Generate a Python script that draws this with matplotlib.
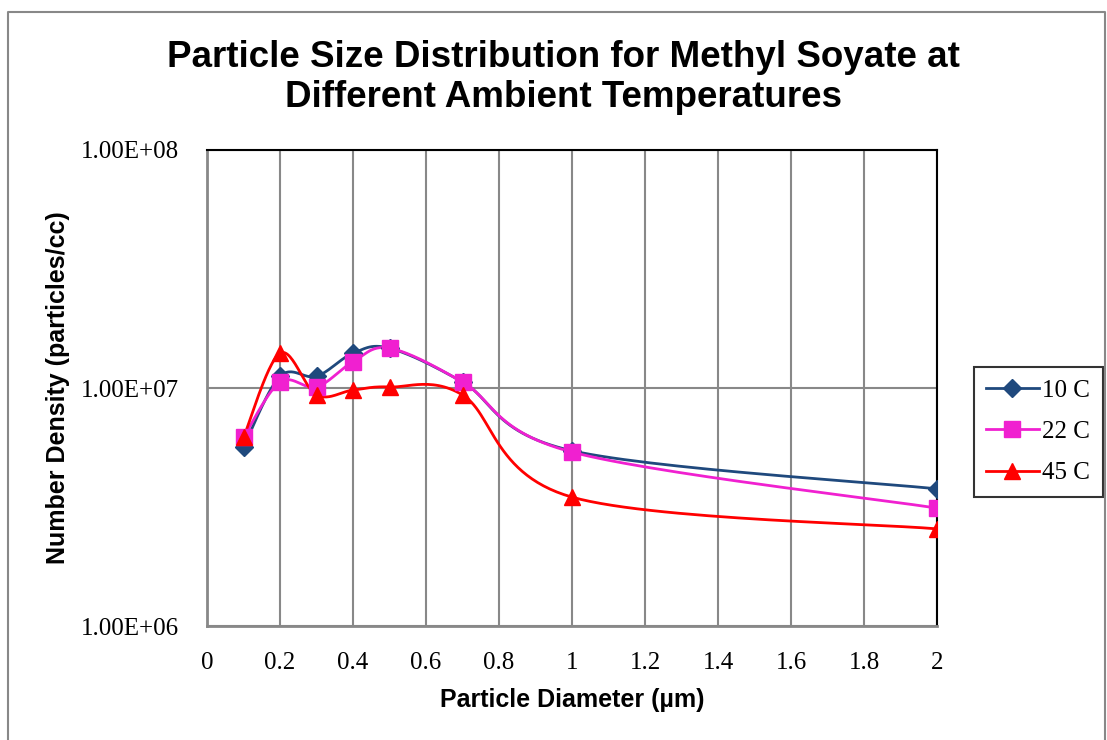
import numpy as np
import matplotlib
matplotlib.use('Agg')
import matplotlib.pyplot as plt
from matplotlib.lines import Line2D

# Diâmetro das partículas (µm) e densidade numérica (partículas/cc)
diametro = [0.1, 0.2, 0.3, 0.4, 0.5, 0.7, 1.0, 2.0]
dens_10c = [5.65e6, 1.12e7, 1.12e7, 1.40e7, 1.47e7, 1.06e7, 5.45e6, 3.77e6]
dens_22c = [6.2e6, 1.06e7, 1.01e7, 1.29e7, 1.47e7, 1.06e7, 5.38e6, 3.13e6]
dens_45c = [6.2e6, 1.40e7, 9.35e6, 9.8e6, 1.01e7, 9.35e6, 3.48e6, 2.56e6]

series = ['10 C', '22 C', '45 C']
cores = ['#1F497D', '#F020D0', '#FF0000']
marcadores = ['D', 's', '^']
x_ticks = [0, 0.2, 0.4, 0.6, 0.8, 1, 1.2, 1.4, 1.6, 1.8, 2]


def suavizar(x, y, n=30):
    # curva suavizada tipo Excel (Catmull-Rom em espaço x / log y)
    px = np.asarray(x, float)
    py = np.log10(np.asarray(y, float))
    pts = np.column_stack([px, py])
    pts = np.vstack([pts[0], pts, pts[-1]])
    out = []
    t = np.linspace(0, 1, n)[:, None]
    for i in range(1, len(pts) - 2):
        p0, p1, p2, p3 = pts[i - 1], pts[i], pts[i + 1], pts[i + 2]
        c1 = p1 + (p2 - p0) / 6
        c2 = p2 - (p3 - p1) / 6
        seg = ((1 - t) ** 3) * p1 + 3 * ((1 - t) ** 2) * t * c1 + 3 * (1 - t) * t ** 2 * c2 + t ** 3 * p2
        out.append(seg)
    out = np.vstack(out)
    return out[:, 0], 10 ** out[:, 1]


fig = plt.figure(figsize=(11.07, 7.4), dpi=100)
ax = fig.add_axes([0.187, 0.154, 0.6595, 0.6433])

handles = []
for dados, cor, m, nome in zip([dens_10c, dens_22c, dens_45c], cores, marcadores, series):
    sx, sy = suavizar(diametro, dados)
    ax.plot(sx, sy, color=cor, lw=2, zorder=3)
    ms = 9.5 if m == 'D' else 11
    ax.plot(diametro, dados, linestyle='none', marker=m, color=cor, markersize=ms, zorder=4)
    handles.append(Line2D([], [], color=cor, lw=2, marker=m, markersize=ms, label=nome))

ax.set_yscale('log')
ax.set_ylim(1e6, 1e8)
ax.set_xlim(0, 2)
ax.set_xticks(x_ticks)
ax.set_xticklabels([f'{v:g}' for v in x_ticks])
ax.set_yticks([1e6, 1e7, 1e8])
ax.set_yticklabels(['1.00E+06', '1.00E+07', '1.00E+08'])
ax.yaxis.set_minor_locator(matplotlib.ticker.NullLocator())
ax.tick_params(length=0, labelsize=18)
ax.tick_params(axis='x', pad=19)
ax.tick_params(axis='y', pad=20)
for lbl in ax.get_xticklabels() + ax.get_yticklabels():
    lbl.set_family('Liberation Serif')
ax.grid(True, color='#888888', lw=1.5)
ax.set_axisbelow(True)
for s in ['top', 'right']:
    ax.spines[s].set_color('black')
    ax.spines[s].set_linewidth(1.5)
for s in ['left', 'bottom']:
    ax.spines[s].set_color('#888888')
    ax.spines[s].set_linewidth(2)

ax.set_xlabel('Particle Diameter (µm)', family='Liberation Sans', fontweight='bold', fontsize=18, labelpad=10)
ax.set_ylabel('Number Density (particles/cc)', family='Liberation Sans', fontweight='bold', fontsize=18, labelpad=8)
fig.text(0.509, 0.895, 'Particle Size Distribution for Methyl Soyate at\nDifferent Ambient Temperatures',
         ha='center', va='center', family='Liberation Sans', fontweight='bold', fontsize=26.5, linespacing=1.2)

leg = ax.legend(handles=handles, loc='center left', bbox_to_anchor=(1.05, 0.408),
                prop={'family': 'Liberation Serif', 'size': 18}, frameon=True, fancybox=False,
                edgecolor='black', handlelength=2.1, labelspacing=0.75, borderpad=0.5, handletextpad=0.15,
                borderaxespad=0)
leg.get_frame().set_linewidth(1.5)

# borda da área do gráfico
fig.add_artist(Line2D([0.007, 0.007, 0.998, 0.998], [0.0, 0.984, 0.984, 0.0],
                      transform=fig.transFigure, color='#888888', lw=1.5))

fig.savefig('out.png', dpi=100)
